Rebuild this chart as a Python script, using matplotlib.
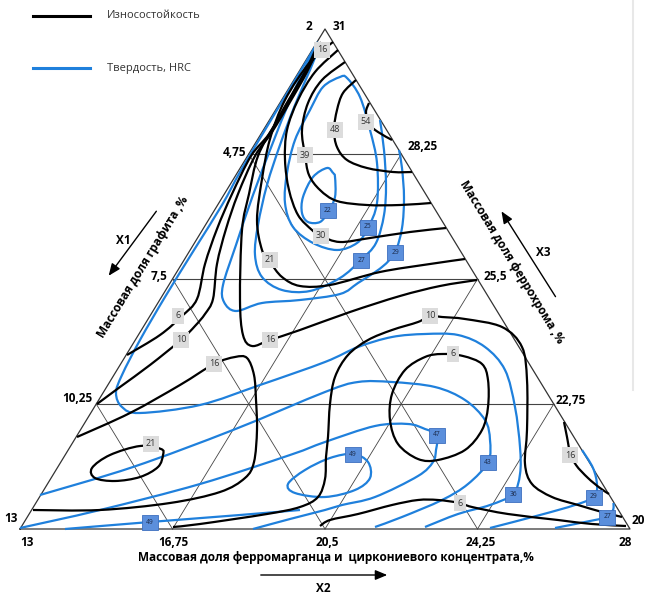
import numpy as np
import matplotlib
matplotlib.use("Agg")
import matplotlib.pyplot as plt
from matplotlib.path import Path
from matplotlib.patches import PathPatch, FancyArrowPatch

plt.rcParams['font.family'] = ['Open Sans', 'DejaVu Sans']

# ---------------- data ----------------
left_ticks = ["2", "4,75", "7,5", "10,25", "13"]          # graphite (X1), apex -> base
right_ticks = ["31", "28,25", "25,5", "22,75", "20"]      # ferrochrome (X3), apex -> base
bottom_ticks = ["13", "16,75", "20,5", "24,25", "28"]     # FeMn + zircon (X2), left -> right

# contour curves in triangle units: (w, h)  w = horizontal offset, h = height %
wear_54 = [(8.8,85.2),(8.2,83.4),(8.8,81.0),(10.6,79.4),(13.4,77.8)]
wear_48 = [(6.2,89.8),(3.6,87.2),(2.4,83.8),(1.8,79.8),(2.4,76.4),(4.4,73.8),(8.4,72.2),(13.6,71.4),(17.4,71.4)]
wear_39 = [(4.0,93.4),(-0.6,89.8),(-3.4,85.2),(-4.6,79.8),(-4.0,74.8),(-3.2,70.8),(-1.0,67.8),(2.4,65.6),(8.4,64.8),(15.0,64.8),(21.2,65.2)]
wear_30 = [(2.6,95.8),(-2.0,91.4),(-5.4,85.8),(-7.6,79.8),(-8.0,73.8),(-7.2,67.8),(-5.4,62.8),(-2.6,59.8),(-0.8,58.6),(3.0,57.4),(9.0,58.2),(17.0,59.4),(24.2,60.2)]
wear_21 = [(1.6,97.4),(-3.0,93.4),(-8.0,85.8),(-11.0,78.0),(-12.6,70.0),(-13.6,61.8),(-12.6,55.8),(-11.0,53.4),(-8.6,50.4),(-5.0,48.6),(1.0,48.8),(11.0,51.4),(21.0,53.0),(28.0,54.0)]
wear_16a = [(30.4,49.8),(23.0,48.6),(15.0,46.6),(5.0,43.4),(-5.0,39.8),(-11.0,37.8),(-14.6,36.6),(-16.4,38.8),(-17.0,45.8),(-16.6,59.8),(-15.2,67.0),(-13.4,74.6),(-10.0,81.0),(-6.0,88.0),(-2.6,93.6),(-0.6,95.8)]
wear_10a = [(-0.8,97.4),(-3.6,91.4),(-7.0,85.4),(-10.6,79.4),(-14.0,74.6),(-17.4,67.0),(-19.8,60.0),(-21.6,53.0),(-22.4,46.0),(-24.0,43.0),(-26.0,40.6),(-28.8,37.8),(-35.0,32.8),(-41.0,28.4),(-45.6,25.0)]
wear_6a = [(-1.4,97.0),(-4.2,91.0),(-7.6,85.0),(-11.2,79.0),(-14.8,74.6),(-18.6,67.0),(-21.6,60.0),(-24.0,53.0),(-25.6,46.0),(-28.6,42.6),(-33.0,38.8),(-39.6,34.8)]
wear_16b = [(-49.6,18.4),(-39.0,23.2),(-29.0,28.8),(-22.2,33.0),(-18.0,34.4),(-15.6,34.2),(-14.2,30.8),(-13.8,25.8),(-13.6,19.8),(-14.2,13.4),(-16.0,10.2),(-21.0,7.4),(-31.0,5.2),(-45.0,3.8),(-58.4,3.8)]
wear_21b = [(-37.0,16.6),(-43.0,14.8),(-46.6,12.2),(-46.0,10.2),(-42.0,9.6),(-37.0,10.4),(-33.4,12.4),(-32.4,14.8),(-32.8,16.0)]
wear_10b = [(-30.4,0.4),(-25.0,1.0),(-11.6,3.0),(-5.0,4.4),(-1.4,6.4),(0.0,10.0),(0.2,14.4),(0.6,18.4),(1.0,25.0),(2.0,30.4),(4.6,34.8),(8.6,37.8),(13.4,39.8),(18.6,41.4),(21.0,42.6),(23.4,42.4),(28.0,42.0),(35.4,40.4),(39.4,36.4),(40.4,29.8),(40.4,19.8),(40.0,13.0),(41.4,9.0),(45.4,6.4),(50.6,4.8),(55.4,3.4),(59.4,2.4)]
wear_6b = [(-1.0,0.6),(1.0,1.8),(6.6,3.0),(13.4,4.8),(18.6,5.8),(22.6,5.8),(27.0,5.2),(29.4,4.4),(36.6,3.0),(46.6,1.8),(53.4,1.0),(60.2,0.6)]
wear_6c = [(23.4,35.0),(20.0,34.4),(16.0,31.8),(13.4,27.0),(13.0,21.8),(14.6,17.0),(18.6,14.0),(22.6,13.8),(28.0,15.8),(31.4,19.8),(32.6,24.4),(32.6,29.8),(31.4,33.0),(27.6,34.6)]
wear_16c = [(47.8,21.4),(48.4,18.4),(49.0,15.4),(50.2,12.8),(52.6,10.2),(55.0,8.2),(56.8,7.0)]

hard_22 = [(1.6,71.2),(0.4,72.2),(-2.4,70.4),(-4.4,66.4),(-4.6,63.2),(-3.4,61.4),(-1.0,61.4),(0.6,63.4),(2.0,66.4),(2.0,70.4)]
hard_25 = [(4.4,90.2),(3.0,90.4),(-0.4,88.4),(-3.0,83.8),(-6.0,77.8),(-7.6,71.2),(-8.0,65.2),(-6.4,60.4),(-2.4,57.2),(2.4,55.8),(6.4,57.2),(8.6,60.2),(10.4,65.2),(10.4,73.2),(9.0,79.8),(7.0,86.4)]
hard_27 = [(-1.0,96.8),(-3.0,91.8),(-6.0,84.8),(-9.0,76.8),(-11.6,68.8),(-13.4,60.8),(-14.0,54.8),(-12.6,50.4),(-8.6,47.8),(-3.0,47.6),(3.0,50.2),(7.2,53.8),(10.2,57.2),(11.8,62.8),(12.2,68.8),(11.8,75.8),(11.0,81.8)]
hard_29 = [(-1.4,97.4),(-4.0,92.2),(-7.0,85.8),(-10.6,76.8),(-14.4,66.8),(-17.8,56.8),(-20.4,48.8),(-20.2,45.4),(-17.8,43.6),(-12.6,45.2),(-5.0,45.8),(3.0,47.0),(6.6,49.2),(11.4,52.4),(14.0,55.4),(15.4,60.2),(15.8,66.2),(15.4,72.2),(14.8,75.8)]
hard_36 = [(-1.4,97.4),(-5.0,91.4),(-9.0,84.8),(-13.2,77.8),(-17.0,71.4),(-20.6,64.8),(-26.2,55.8),(-32.0,46.4),(-37.0,37.8),(-40.6,30.8),(-41.8,27.2),(-40.6,24.4),(-37.0,23.2),(-25.0,24.8),(-13.0,28.8),(0.0,33.4),(6.6,36.4),(13.4,38.4),(20.0,39.0),(26.6,38.8),(32.0,36.4),(36.0,31.8),(38.0,24.4),(39.0,16.4),(39.0,11.0),(37.6,7.0),(33.0,4.8),(26.6,3.0),(20.0,0.4)]
hard_43 = [(-57.0,6.8),(-38.4,12.4),(-18.4,19.8),(0.0,27.4),(6.6,29.4),(13.4,29.4),(22.0,28.4),(28.0,25.8),(32.0,21.8),(33.0,17.8),(32.6,13.4),(28.6,9.0),(23.4,5.8),(15.4,2.4),(10.0,0.4)]
hard_47 = [(-61.0,0.2),(-45.0,3.8),(-25.0,9.0),(-7.0,14.8),(0.0,17.4),(10.0,20.6),(16.6,21.0),(20.0,20.0),(22.4,18.8),(22.2,15.8),(21.6,13.4),(18.6,10.6),(10.0,6.4),(3.4,4.8),(0.0,3.8),(-7.0,2.0),(-14.4,0.0)]
hard_49 = [(5.6,15.0),(1.0,14.2),(-4.0,11.8),(-7.4,9.0),(-6.0,7.2),(0.0,6.4),(6.0,7.8),(9.0,10.2),(8.6,13.4)]
hard_49b = [(-52.0,0.0),(-35.0,1.4),(-17.0,2.8),(-5.0,3.8)]
hard_29b = [(33.0,0.2),(43.0,2.8),(50.0,4.8),(53.8,6.4),(54.4,8.8),(53.6,12.2),(51.4,15.8)]
hard_27b = [(46.0,0.2),(53.0,1.6),(56.4,2.4),(57.6,3.8),(57.7,5.2)]

wear_open = [wear_54, wear_48, wear_39, wear_30, wear_21, wear_16a, wear_10a, wear_6a,
             wear_16b, wear_10b, wear_6b, wear_16c]
wear_closed = [wear_21b, wear_6c]
hard_open = [hard_27, hard_29, hard_36, hard_43, hard_47, hard_49b, hard_29b, hard_27b]
hard_closed = [hard_22, hard_25, hard_49]

wear_label_text = ["16", "54", "48", "39", "30", "21", "6", "10", "16", "16", "10", "6", "21", "6", "16"]
wear_label_pos = [(-0.6,95.8),(8.2,81.4),(2.0,79.8),(-4.0,74.8),(-0.8,58.6),(-11.0,53.8),(-29.4,42.6),
                  (-28.8,37.8),(-22.2,33.0),(-11.0,37.8),(21.0,42.6),(25.6,35.0),(-34.8,17.0),(27.0,5.2),(49.0,14.8)]
hard_label_text = ["22", "25", "27", "29", "49", "47", "43", "36", "29", "27", "49"]
hard_label_pos = [(0.6,63.8),(8.6,60.4),(7.2,53.8),(14.0,55.4),(5.6,15.0),(22.4,18.8),(32.6,13.4),
                  (37.6,7.0),(53.8,6.4),(56.4,2.4),(-35.0,1.4)]

# ---------------- drawing ----------------
BLUE = "#1f80dc"
fig = plt.figure(figsize=(6.5, 5.94), dpi=100)
ax = fig.add_axes([0, 0, 1, 1])
ax.set_xlim(-65, 65)
ax.set_ylim(-13, 105.8)
ax.axis("off")

def P(x, y):
    """layout helper: figure pixel -> triangle units"""
    return ((x - 325) / 5.0, (529 - y) / 5.0)

def smooth(pts, closed=False):
    Q = np.asarray(pts, float)
    if closed:
        Q = np.vstack([Q[-1], Q, Q[0], Q[1]])
    else:
        Q = np.vstack([Q[0], Q, Q[-1]])
    verts = [tuple(Q[1])]
    codes = [Path.MOVETO]
    for i in range(1, len(Q) - 2):
        p0, p1, p2, p3 = Q[i - 1], Q[i], Q[i + 1], Q[i + 2]
        c1 = p1 + (p2 - p0) / 6.0
        c2 = p2 - (p3 - p1) / 6.0
        verts += [tuple(c1), tuple(c2), tuple(p2)]
        codes += [Path.CURVE4] * 3
    return Path(verts, codes)

# triangle and grid
A, B, C = np.array([-61.0, 0.0]), np.array([61.0, 0.0]), np.array([0.0, 100.0])
ax.plot([A[0], B[0], C[0], A[0]], [A[1], B[1], C[1], A[1]], color="#333333", lw=0.9, zorder=1)
for k in (1, 2, 3):
    f = k / 4.0
    L = A + (C - A) * f
    R = B + (C - B) * f
    ax.plot([L[0], R[0]], [L[1], R[1]], color="#444444", lw=0.8, zorder=1)
    Bk = A + (B - A) * f
    R2 = B + (C - B) * (1 - f)
    ax.plot([Bk[0], R2[0]], [Bk[1], R2[1]], color="#444444", lw=0.6, zorder=1)
    L2 = A + (C - A) * f
    ax.plot([Bk[0], L2[0]], [Bk[1], L2[1]], color="#444444", lw=0.6, zorder=1)

# contours
for c in hard_open:
    ax.add_patch(PathPatch(smooth(c), fill=False, ec=BLUE, lw=1.6, zorder=2))
for c in hard_closed:
    ax.add_patch(PathPatch(smooth(c, True), fill=False, ec=BLUE, lw=1.6, zorder=2))
for c in wear_open:
    ax.add_patch(PathPatch(smooth(c), fill=False, ec="black", lw=1.6, zorder=3))
for c in wear_closed:
    ax.add_patch(PathPatch(smooth(c, True), fill=False, ec="black", lw=1.6, zorder=3))

for t, (x, y) in zip(wear_label_text, wear_label_pos):
    ax.text(x, y, t, fontsize=6.5, color="#333333", ha="center", va="center", zorder=5,
            bbox=dict(boxstyle="square,pad=0.35", fc="#dcdcdc", ec="none"))
for t, (x, y) in zip(hard_label_text, hard_label_pos):
    ax.text(x, y, t, fontsize=4.8, color="#1b2a4a", ha="center", va="center", zorder=5,
            bbox=dict(boxstyle="square,pad=0.6", fc="#5b8fdc", ec="#3d6fbf", lw=0.6))

# tick labels
tk = dict(fontsize=8.5, fontweight="bold", color="black")
left_off = [(-2.6, 0.4), (-0.4, 0.4), (-1.0, 0.4), (-0.8, 1.0), (-0.4, 2.0)]
right_off = [(1.6, 0.4), (1.2, 1.4), (1.2, 0.4), (0.4, 0.8), (0.4, 1.8)]
for i, (lt, rt) in enumerate(zip(left_ticks, right_ticks)):
    h = 100 - 25 * i
    wl = -61 * (1 - h / 100.0)
    ax.text(wl + left_off[i][0], h + left_off[i][1], lt, ha="right", va="center", **tk)
    ax.text(-wl + right_off[i][0], h + right_off[i][1], rt, ha="left", va="center", **tk)
bot_off = [1.4, 0.2, 0.4, 0.6, -1.0]
for i, bt in enumerate(bottom_ticks):
    w = -61 + 30.5 * i
    ax.text(w + bot_off[i], -2.7, bt, ha="center", va="center", **tk)

# axis titles
ax.text(*P(336, 557), "Массовая доля ферромарганца и  циркониевого концентрата,%",
        ha="center", va="center", fontsize=8.5, fontweight="bold")
ax.text(*P(143, 267), "Массовая доля графита ,%", rotation=58.6, rotation_mode="anchor",
        ha="center", va="center", fontsize=8.5, fontweight="bold")
ax.text(*P(512, 262), "Массовая доля феррохрома ,%", rotation=-58.6, rotation_mode="anchor",
        ha="center", va="center", fontsize=8.5, fontweight="bold")

arrow_kw = dict(arrowstyle="-|>,head_length=0.6,head_width=0.25", color="black", lw=1.0,
                mutation_scale=12, zorder=4)
ax.add_patch(FancyArrowPatch(P(258, 575), P(390, 575), **arrow_kw))
ax.add_patch(FancyArrowPatch(P(158, 209), P(107, 278), **arrow_kw))
ax.add_patch(FancyArrowPatch(P(557, 299), P(500, 209), **arrow_kw))
ax.text(*P(323, 589), "X2", ha="center", va="center", fontsize=8.5, fontweight="bold")
ax.text(*P(123, 240), "X1", ha="center", va="center", fontsize=8.5, fontweight="bold")
ax.text(*P(543, 253), "X3", ha="center", va="center", fontsize=8.5, fontweight="bold")

# legend
ax.plot([P(33, 0)[0], P(90, 0)[0]], [P(0, 16)[1]] * 2, color="black", lw=2.2)
ax.plot([P(33, 0)[0], P(90, 0)[0]], [P(0, 68)[1]] * 2, color=BLUE, lw=2.2)
ax.text(*P(107, 16), "Износостойкость", ha="left", va="center", fontsize=8, color="#333333")
ax.text(*P(107, 68), "Твердость, HRC", ha="left", va="center", fontsize=8, color="#333333")

# faint frame line on the right
ax.plot([P(633, 0)[0]] * 2, [P(0, 0)[1], P(0, 390)[1]], color="#e8e8e8", lw=1.5, zorder=0)

fig.savefig("out.png", dpi=100)
